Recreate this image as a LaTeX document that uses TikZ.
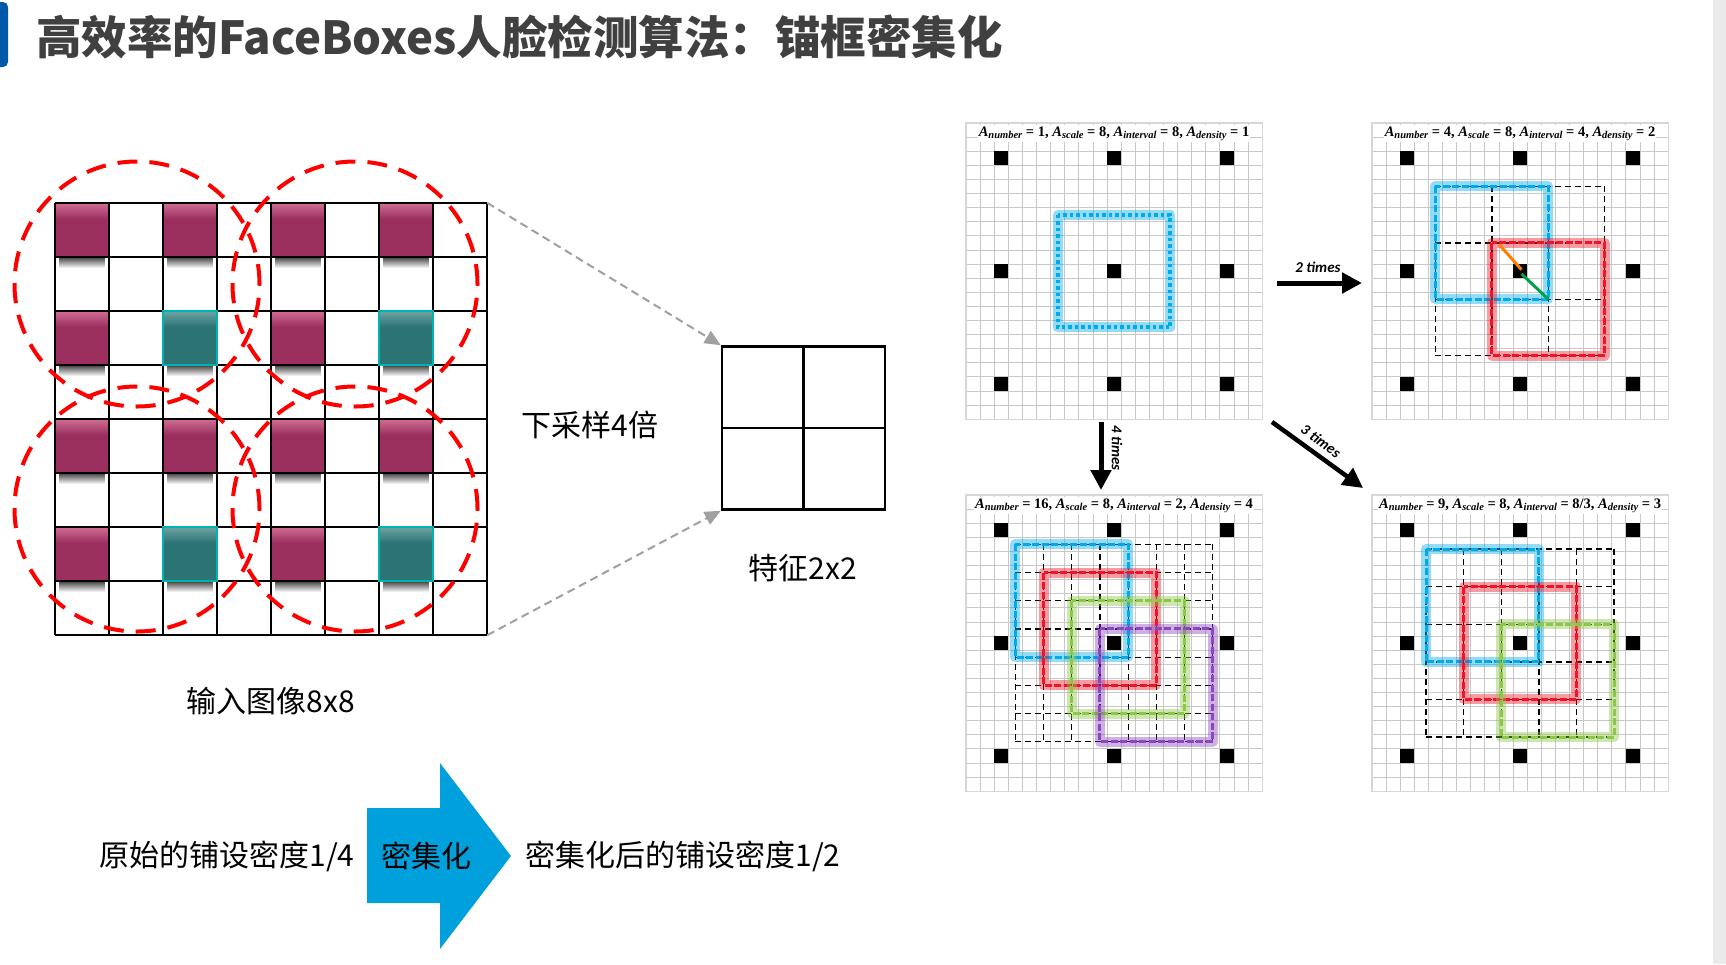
\documentclass[tikz,border=0pt]{standalone}
\usepackage{fontspec}
\usetikzlibrary{arrows.meta,fadings}
\newfontfamily\cjkfont{Noto Sans CJK SC}
\newfontfamily\tagfont{Carlito}
\newfontfamily\formulafont{Liberation Serif}

\definecolor{titlegray}{RGB}{64,64,64}
\definecolor{barblue}{RGB}{0,88,170}
\definecolor{plum}{RGB}{155,47,94}
\definecolor{plumhi}{RGB}{210,110,150}
\definecolor{tealsq}{RGB}{44,115,115}
\definecolor{tealhi}{RGB}{110,165,165}
\definecolor{tealrim}{RGB}{0,178,178}
\definecolor{arrowblue}{RGB}{0,160,220}
\definecolor{linkgray}{RGB}{160,160,160}
\definecolor{cellgray}{RGB}{200,200,200}
\definecolor{panelframe}{RGB}{215,215,215}
\definecolor{anchorblue}{RGB}{0,170,235}
\definecolor{anchorred}{RGB}{240,20,40}
\definecolor{anchorgreen}{RGB}{140,200,70}
\definecolor{anchorpurple}{RGB}{140,70,190}
\definecolor{dirorange}{RGB}{255,128,0}
\definecolor{dirgreen}{RGB}{0,160,70}
\definecolor{stripgray}{RGB}{234,234,234}

\tikzfading[name=fadedown, top color=transparent!0, bottom color=transparent!100]

\tikzset{
  cjklabel/.style={font=\cjkfont\fontsize{30}{36}\selectfont, inner sep=0pt},
  gridline/.style={black, line width=2.3pt},
  receptive/.style={red, line width=4pt, dash pattern=on 20pt off 12pt},
  link/.style={linkgray, line width=2pt, dash pattern=on 8pt off 5pt,
    -{Triangle[length=16pt,width=14pt]}},
  bigarrow/.style={black, line width=5pt, -{Triangle[length=20pt,width=20pt]}},
  timeslabel/.style={font=\tagfont\bfseries\itshape\fontsize{15}{18}\selectfont, inner sep=0pt},
  formula/.style={font=\formulafont\bfseries\fontsize{14.5}{17}\selectfont,
    fill=white, inner sep=1pt},
  cell/.style={cellgray, line width=0.7pt},
  lattice/.style={black, line width=1.3pt, dash pattern=on 6pt off 4pt},
  glow/.style={line width=10pt, opacity=0.42, line join=round},
  anchorbox/.style={line width=3pt, dash pattern=on 7pt off 2.5pt},
  panelbox/.style={minimum size=296pt, inner sep=0pt},
}

% A with an italic subscript, as in the anchor formulas
\newcommand\asub[1]{\textit{A}\raisebox{-0.35ex}{\fontsize{10.5}{12}\selectfont\textit{#1}}}

% one anchor tile of the 8x8 input image, with its soft shadow
\newcommand\tile[4]{%
  \pgfmathsetmacro\tx{55+54*#1}\pgfmathsetmacro\ty{203+54*#2}%
  \fill[black, opacity=0.75, path fading=fadedown] (\tx+4,\ty+54) rectangle (\tx+50,\ty+65);
  \fill[#3] (\tx,\ty) rectangle ++(54,54);
  \fill[#4, path fading=fadedown] (\tx,\ty) rectangle ++(54,16);
}

% 21x21 cell panel with the 3x3 black anchor centres; #1,#2 = top-left corner
\newcommand\cellpanel[2]{%
  \begin{scope}[shift={(#1,#2)}, x=14.1pt, y=-14.1pt]
    \fill[white] (0,0) rectangle (21,21);
    \foreach \k in {0,...,21}{
      \draw[cell] (\k,0) -- (\k,21);
      \draw[cell] (0,\k) -- (21,\k);
    }
    \draw[panelframe, line width=1.2pt] (0,0) rectangle (21,21);
    \foreach \i in {2,10,18}{\foreach \j in {2,10,18}{
      \fill[black] (\i,\j) rectangle ++(1,1);
    }}
  \end{scope}}

% coloured anchor box with glow, in panel cell units
\newcommand\glowbox[3]{% colour, low corner, high corner
  \draw[#1, glow] (#2,#2) rectangle (#3,#3);
  \draw[#1, anchorbox] (#2,#2) rectangle (#3,#3);
}

\begin{document}
\begin{tikzpicture}[x=1pt, y=-1pt]
\useasboundingbox (0,0) rectangle (1726,964);
\fill[white] (0,0) rectangle (1726,964);
\fill[stripgray] (1713,0) rectangle (1726,964);

% ---------- heading ----------
\fill[barblue, rounded corners=5pt] (-8,2) rectangle (8,67);
\node[anchor=west, inner sep=0pt, text=titlegray,
      font=\cjkfont\bfseries\fontsize{45.5}{54}\selectfont] (title) at (36,37)
  {高效率的FaceBoxes人脸检测算法：锚框密集化};

% ---------- 8x8 input image ----------
\foreach \c in {0,2,4,6}{\foreach \r in {0,2,4,6}{
  \pgfmathtruncatemacro\isteal{(mod(\c,4)==2)&&(mod(\r,4)==2)}
  \ifnum\isteal=1 \tile{\c}{\r}{tealsq}{tealhi}\else\tile{\c}{\r}{plum}{plumhi}\fi
}}
\foreach \k in {0,...,8}{
  \draw[gridline] (55+54*\k,203) -- (55+54*\k,635);
  \draw[gridline] (55,203+54*\k) -- (487,203+54*\k);
}
\foreach \c/\r in {2/2,6/2,2/6,6/6}{
  \draw[tealrim, line width=2pt] (55+54*\c,203+54*\r) rectangle ++(54,54);
}
\node[minimum size=432pt, inner sep=0pt] (img) at (271,419) {};

% receptive fields
\foreach \cx/\cy in {137/284, 355/284, 137/509, 355/509}{
  \draw[receptive] (\cx,\cy) circle[radius=122.5pt];
}

% ---------- 2x2 feature map ----------
\node[draw, line width=2.5pt, minimum size=163pt, inner sep=0pt] (fm) at (803.5,428) {};
\draw[line width=2.5pt] (fm.north) -- (fm.south);
\draw[line width=2.5pt] (fm.west) -- (fm.east);
\draw[link] (img.north east) -- (fm.north west);
\draw[link] (img.south east) -- (fm.south west);

\node[cjklabel] (down) at (590,425) {下采样4倍};
\node[cjklabel] (fmname) at (803,568) {特征2x2};
\node[cjklabel] (imgname) at (271,701) {输入图像8x8};

% ---------- density arrow ----------
\fill[arrowblue] (367,808) -- (440,808) -- (440,763) -- (511,856) -- (440,949)
  -- (440,903) -- (367,903) -- cycle;
\node[cjklabel] (before) at (227,856) {原始的铺设密度1/4};
\node[cjklabel] (dense) at (426,856) {密集化};
\node[cjklabel] (after) at (683,856) {密集化后的铺设密度1/2};

% ---------- anchor tiling panels ----------
\cellpanel{966}{123}
\cellpanel{1372}{123}
\cellpanel{966}{495}
\cellpanel{1372}{495}
\node[panelbox] (p1) at (1114,271) {};
\node[panelbox] (p2) at (1520,271) {};
\node[panelbox] (p3) at (1114,643) {};
\node[panelbox] (p4) at (1520,643) {};

% density 1
\begin{scope}[shift={(966,123)}, x=14.1pt, y=-14.1pt]
  \draw[anchorblue, glow] (6.5,6.5) rectangle (14.5,14.5);
  \draw[anchorblue, line width=4pt, dash pattern=on 3.5pt off 3pt] (6.5,6.5) rectangle (14.5,14.5);
  \node[formula] (l1) at (10.5,0.75)
    {\asub{number} = 1, \asub{scale} = 8, \asub{interval} = 8, \asub{density} = 1};
\end{scope}

% density 2
\begin{scope}[shift={(1372,123)}, x=14.1pt, y=-14.1pt]
  \foreach \v in {4.5,8.5,12.5,16.5}{
    \draw[lattice] (\v,4.5) -- (\v,16.5);
    \draw[lattice] (4.5,\v) -- (16.5,\v);
  }
  \glowbox{anchorblue}{4.5}{12.5}
  \glowbox{anchorred}{8.5}{16.5}
  \draw[dirorange, line width=3pt] (9.0,8.6) -- (10.6,10.4);
  \draw[dirgreen, line width=3pt] (10.6,10.7) -- (12.5,12.5);
  \node[formula] (l2) at (10.5,0.75)
    {\asub{number} = 4, \asub{scale} = 8, \asub{interval} = 4, \asub{density} = 2};
\end{scope}

% density 4
\begin{scope}[shift={(966,495)}, x=14.1pt, y=-14.1pt]
  \foreach \v in {3.5,5.5,...,17.5}{
    \draw[lattice] (\v,3.5) -- (\v,17.5);
    \draw[lattice] (3.5,\v) -- (17.5,\v);
  }
  \glowbox{anchorblue}{3.5}{11.5}
  \glowbox{anchorred}{5.5}{13.5}
  \glowbox{anchorgreen}{7.5}{15.5}
  \glowbox{anchorpurple}{9.5}{17.5}
  \node[formula] (l3) at (10.5,0.75)
    {\asub{number} = 16, \asub{scale} = 8, \asub{interval} = 2, \asub{density} = 4};
\end{scope}

% density 3
\begin{scope}[shift={(1372,495)}, x=14.1pt, y=-14.1pt]
  \foreach \v in {3.8333,6.5,9.1667,11.8333,14.5,17.1667}{
    \draw[lattice] (\v,3.8333) -- (\v,17.1667);
    \draw[lattice] (3.8333,\v) -- (17.1667,\v);
  }
  \glowbox{anchorblue}{3.8333}{11.8333}
  \glowbox{anchorred}{6.5}{14.5}
  \glowbox{anchorgreen}{9.1667}{17.1667}
  \node[formula] (l4) at (10.5,0.75)
    {\asub{number} = 9, \asub{scale} = 8, \asub{interval} = 8/3, \asub{density} = 3};
\end{scope}

% densification steps between panels
\coordinate (t2a) at (1277,283);
\coordinate (t2b) at (1362,283);
\coordinate (t4a) at (1101,422);
\coordinate (t4b) at (1101,490);
\coordinate (t3a) at (1272,422);
\coordinate (t3b) at (1363,488);
\draw[bigarrow] (t2a) -- (t2b);
\draw[bigarrow] (t4a) -- (t4b);
\draw[bigarrow, line width=4.5pt] (t3a) -- (t3b);
\node[timeslabel] (n2) at (1318,267) {2 times};
\node[timeslabel, rotate=-90] (n4) at (1117,448) {4 times};
\node[timeslabel, rotate=-36] (n3) at (1321,441) {3 times};
\end{tikzpicture}
\end{document}
